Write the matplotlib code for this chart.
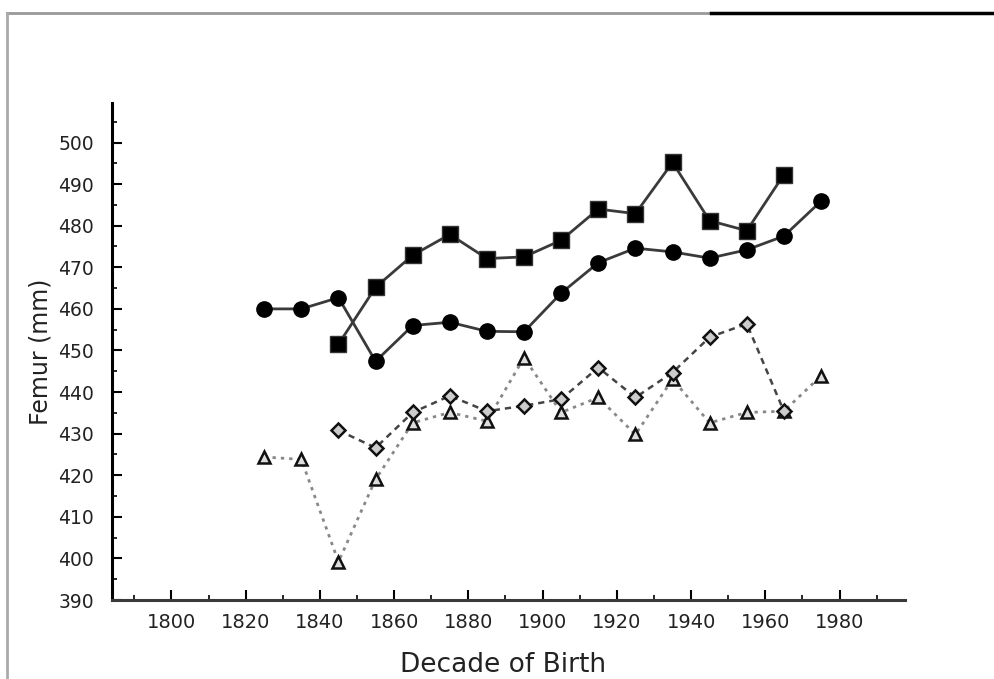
import matplotlib.pyplot as plt
from matplotlib.lines import Line2D
from matplotlib.ticker import MultipleLocator

plt.rcParams['font.family'] = ['DejaVu Sans']

# decade midpoints
dec_circle = [1825, 1835, 1845, 1855, 1865, 1875, 1885, 1895, 1905, 1915, 1925, 1935, 1945, 1955, 1965, 1975]
femur_circle = [460, 460, 462.7, 447.4, 456, 456.8, 454.6, 454.5, 463.8, 471.1, 474.6, 473.7, 472.2, 474.2, 477.5, 485.9]

dec_square = [1845, 1855, 1865, 1875, 1885, 1895, 1905, 1915, 1925, 1935, 1945, 1955, 1965]
femur_square = [451.5, 465.2, 472.9, 477.9, 472.1, 472.5, 476.5, 484, 482.9, 495.2, 481.2, 478.8, 492.3]

dec_diamond = [1845, 1855, 1865, 1875, 1885, 1895, 1905, 1915, 1925, 1935, 1945, 1955, 1965]
femur_diamond = [430.8, 426.6, 435.1, 439.1, 435.4, 436.7, 438.3, 445.9, 438.7, 444.7, 453.2, 456.4, 435.4]

dec_triangle = [1825, 1835, 1845, 1855, 1865, 1875, 1885, 1895, 1905, 1915, 1925, 1935, 1945, 1955, 1965, 1975]
femur_triangle = [424.4, 423.8, 399.2, 419.0, 432.6, 435.1, 433.0, 448.3, 435.1, 438.7, 429.8, 443.1, 432.6, 435.1, 435.4, 443.9]

fig = plt.figure(figsize=(9.94, 6.79), dpi=100)
ax = fig.add_axes([0.1127, 0.1163, 0.7973, 0.7320])

# lines
ax.plot(dec_triangle, femur_triangle, color='#888888', linestyle=(0, (1.2, 1.8)), linewidth=2,
        marker='^', markersize=9, markerfacecolor='#dddddd', markeredgecolor='#111111', markeredgewidth=1.8)
ax.plot(dec_diamond, femur_diamond, color='#444444', linestyle=(0, (2.5, 2)), linewidth=1.8,
        marker='D', markersize=7, markerfacecolor='#cccccc', markeredgecolor='#111111', markeredgewidth=1.8)
ax.plot(dec_circle, femur_circle, color='#3a3a3a', linestyle='-', linewidth=2,
        marker='o', markersize=11, markerfacecolor='black', markeredgecolor='black')
ax.plot(dec_square, femur_square, color='#3a3a3a', linestyle='-', linewidth=2,
        marker='s', markersize=11, markerfacecolor='black', markeredgecolor='#333333')

ax.set_xlim(1784, 1997.5)
ax.set_ylim(390, 509.5)

ax.set_xticks(range(1800, 1981, 20))
ax.xaxis.set_minor_locator(MultipleLocator(10))
ax.yaxis.set_major_locator(MultipleLocator(10))
ax.yaxis.set_minor_locator(MultipleLocator(5))

ax.tick_params(axis='both', which='major', direction='in', length=7, width=1.5,
               labelsize=14, labelcolor='#222222')
ax.tick_params(axis='both', which='minor', direction='in', length=3.5, width=1.2)
ax.tick_params(axis='x', which='major', pad=9)
ax.tick_params(axis='y', which='major', pad=13, labelsize=13.5)

for side in ['top', 'right']:
    ax.spines[side].set_visible(False)
ax.spines['left'].set_linewidth(2.2)
ax.spines['bottom'].set_linewidth(2.2)
ax.spines['left'].set_color('black')
ax.spines['bottom'].set_color('#3a3a3a')

ax.set_xlabel('Decade of Birth', fontsize=19, color='#222222')
ax.xaxis.set_label_coords(0.494, -0.104)
ax.set_ylabel('Femur (mm)', fontsize=17, color='#222222')
ax.yaxis.set_label_coords(-0.075, 0.5)

# scanned page frame
fig.add_artist(Line2D([0.007, 0.715], [0.981, 0.981], transform=fig.transFigure, color='#999999', linewidth=2))
fig.add_artist(Line2D([0.715, 1.0], [0.981, 0.981], transform=fig.transFigure, color='black', linewidth=2.5))
fig.add_artist(Line2D([0.007, 0.007], [0.0, 0.981], transform=fig.transFigure, color='#aaaaaa', linewidth=2))

fig.savefig('out.png', dpi=100)
